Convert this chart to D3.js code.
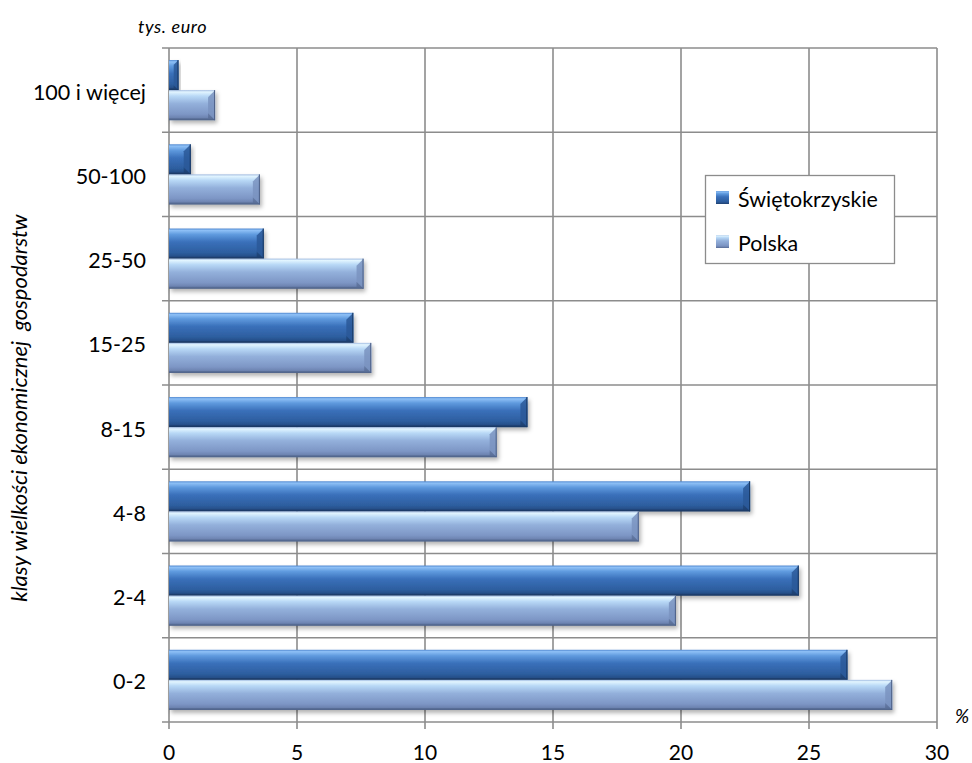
<!DOCTYPE html>
<html><head><meta charset="utf-8">
<script src="https://cdn.jsdelivr.net/npm/d3@7"></script>
<style>
html,body{margin:0;padding:0;background:#fff;}
text{font-family:Lato,"Open Sans",sans-serif;fill:#000;}
</style></head>
<body>
<svg id="chart" width="972" height="763"></svg>
<script>
const categories = ["100 i więcej","50-100","25-50","15-25","8-15","4-8","2-4","0-2"];
const series = ["Świętokrzyskie","Polska"];
const swietokrzyskie = [0.37, 0.85, 3.7, 7.2, 14.0, 22.7, 24.6, 26.5];
const polska = [1.8, 3.55, 7.6, 7.9, 12.8, 18.35, 19.8, 28.25];
const xTicks = [0,5,10,15,20,25,30];
const xDomain = [0,30];
const yTitle = "klasy wielkości ekonomicznej  gospodarstw";
const unitTop = "tys. euro";
const unitRight = "%";

const values = {"Świętokrzyskie": swietokrzyskie, "Polska": polska};

const svg = d3.select("#chart");
const M = {left:169, right:937, top:48, bottom:722};

const x = d3.scaleLinear().domain(xDomain).range([M.left, M.right]);
const y = d3.scaleBand().domain(categories).range([M.top, M.bottom]).padding(0);
const ys = d3.scaleBand().domain(series).range([0, y.bandwidth()]).paddingInner(0).paddingOuter(0.4);

const defs = svg.append("defs");
function vgrad(id, stops){
  const g = defs.append("linearGradient").attr("id",id).attr("x1",0).attr("y1",0).attr("x2",0).attr("y2",1);
  stops.forEach(s=>g.append("stop").attr("offset",s[0]).attr("stop-color",s[1]));
}
vgrad("g0", [[0,"#4d86cf"],[0.06,"#8ec0f6"],[0.2,"#5f9ade"],[0.45,"#3a70ba"],[0.8,"#2d5e9f"],[0.94,"#254d85"],[1,"#1c3b66"]]);
vgrad("g1", [[0,"#9fb9e0"],[0.06,"#e2f5ff"],[0.2,"#b8d8f6"],[0.45,"#93b0db"],[0.8,"#7d96c5"],[0.94,"#6a80ad"],[1,"#4e6288"]]);
const capCols = {"Świętokrzyskie":["#2a5898","#173660"], "Polska":["#7a93c0","#4c5f86"]};
const fills = {"Świętokrzyskie":"url(#g0)", "Polska":"url(#g1)"};

const f = defs.append("filter").attr("id","sh").attr("x","-10%").attr("y","-30%").attr("width","130%").attr("height","180%");
f.append("feDropShadow").attr("dx",2).attr("dy",3).attr("stdDeviation",2).attr("flood-color","#000").attr("flood-opacity",0.3);

// gridlines
const gridCol = "#8c8c8c";
svg.append("g").selectAll("line.v").data(xTicks).join("line")
  .attr("x1",d=>x(d)).attr("x2",d=>x(d)).attr("y1",M.top).attr("y2",M.bottom+7)
  .attr("stroke",gridCol).attr("stroke-width",1.6);
const bounds = categories.map(c=>y(c)).concat([M.bottom]);
svg.append("g").selectAll("line.h").data(bounds).join("line")
  .attr("x1",M.left-7).attr("x2",M.right).attr("y1",d=>d).attr("y2",d=>d)
  .attr("stroke",gridCol).attr("stroke-width",1.6);

// bars
const bars = [];
categories.forEach((c,i)=>series.forEach(s=>bars.push({c, s, v: values[s][i]})));
const bg = svg.append("g");
const bar = bg.selectAll("g.bar").data(bars).join("g").attr("class","bar");
bar.append("rect")
  .attr("x", x(0)).attr("y", d=>y(d.c)+ys(d.s))
  .attr("width", d=>x(d.v)-x(0)).attr("height", ys.bandwidth())
  .attr("fill", d=>fills[d.s]).attr("filter","url(#sh)");
bar.append("path")
  .attr("d", d=>{
    const x1 = x(d.v), y0 = y(d.c)+ys(d.s), h = ys.bandwidth();
    const b = Math.min(7, (x1-x(0))/2);
    return `M${x1-b},${y0+b}L${x1},${y0}L${x1},${y0+h}L${x1-b},${y0+h-b}Z`;
  }).attr("fill", d=>capCols[d.s][0]).attr("opacity",0.85);
bar.append("path")
  .attr("d", d=>{
    const x1 = x(d.v), y0 = y(d.c)+ys(d.s), h = ys.bandwidth();
    const b = Math.min(7, (x1-x(0))/2);
    return `M${x1-b},${y0+h-b}L${x1},${y0+h}L${x(0)},${y0+h}L${x(0)},${y0+h-2}L${x1-b},${y0+h-2}Z`;
  }).attr("fill", d=>capCols[d.s][1]).attr("opacity",0.5);
bar.append("line")
  .attr("x1", d=>x(d.v)-0.5).attr("x2", d=>x(d.v)-0.5)
  .attr("y1", d=>y(d.c)+ys(d.s)).attr("y2", d=>y(d.c)+ys(d.s)+ys.bandwidth())
  .attr("stroke", d=>capCols[d.s][1]).attr("stroke-width",1);

// x tick labels
svg.append("g").selectAll("text").data(xTicks).join("text")
  .attr("x",d=>x(d)).attr("y",760).attr("text-anchor","middle")
  .style("font-size","21px").text(d=>d);

// y category labels
svg.append("g").selectAll("text").data(categories).join("text")
  .attr("x",146).attr("y",d=>y(d)+y.bandwidth()/2+9.5).attr("text-anchor","end")
  .style("font-size","21.5px").text(d=>d);

// titles
svg.append("text").attr("x",138).attr("y",33).style("font-size","18px").style("letter-spacing","0.6px").style("font-style","italic").text(unitTop);
svg.append("text").attr("x",955).attr("y",723).style("font-size","19px").style("font-style","italic").text(unitRight);
svg.append("text").attr("transform","translate(27,408) rotate(-90)").attr("text-anchor","middle")
  .style("font-size","22px").style("font-style","italic").style("white-space","pre").attr("xml:space","preserve").text(yTitle);

// legend
const lg = svg.append("g");
lg.append("rect").attr("x",705.5).attr("y",175.5).attr("width",189).attr("height",88)
  .attr("fill","#fff").attr("stroke","#8c8c8c").attr("stroke-width",1.3);
const li = lg.selectAll("g.li").data(series).join("g").attr("class","li")
  .attr("transform",(d,i)=>`translate(716,${191+i*44})`);
li.append("rect").attr("width",13).attr("height",13).attr("fill",d=>fills[d]);
li.append("text").attr("x",22).attr("y",15.5).style("font-size","21.4px").text(d=>d);
</script>
</body></html>
